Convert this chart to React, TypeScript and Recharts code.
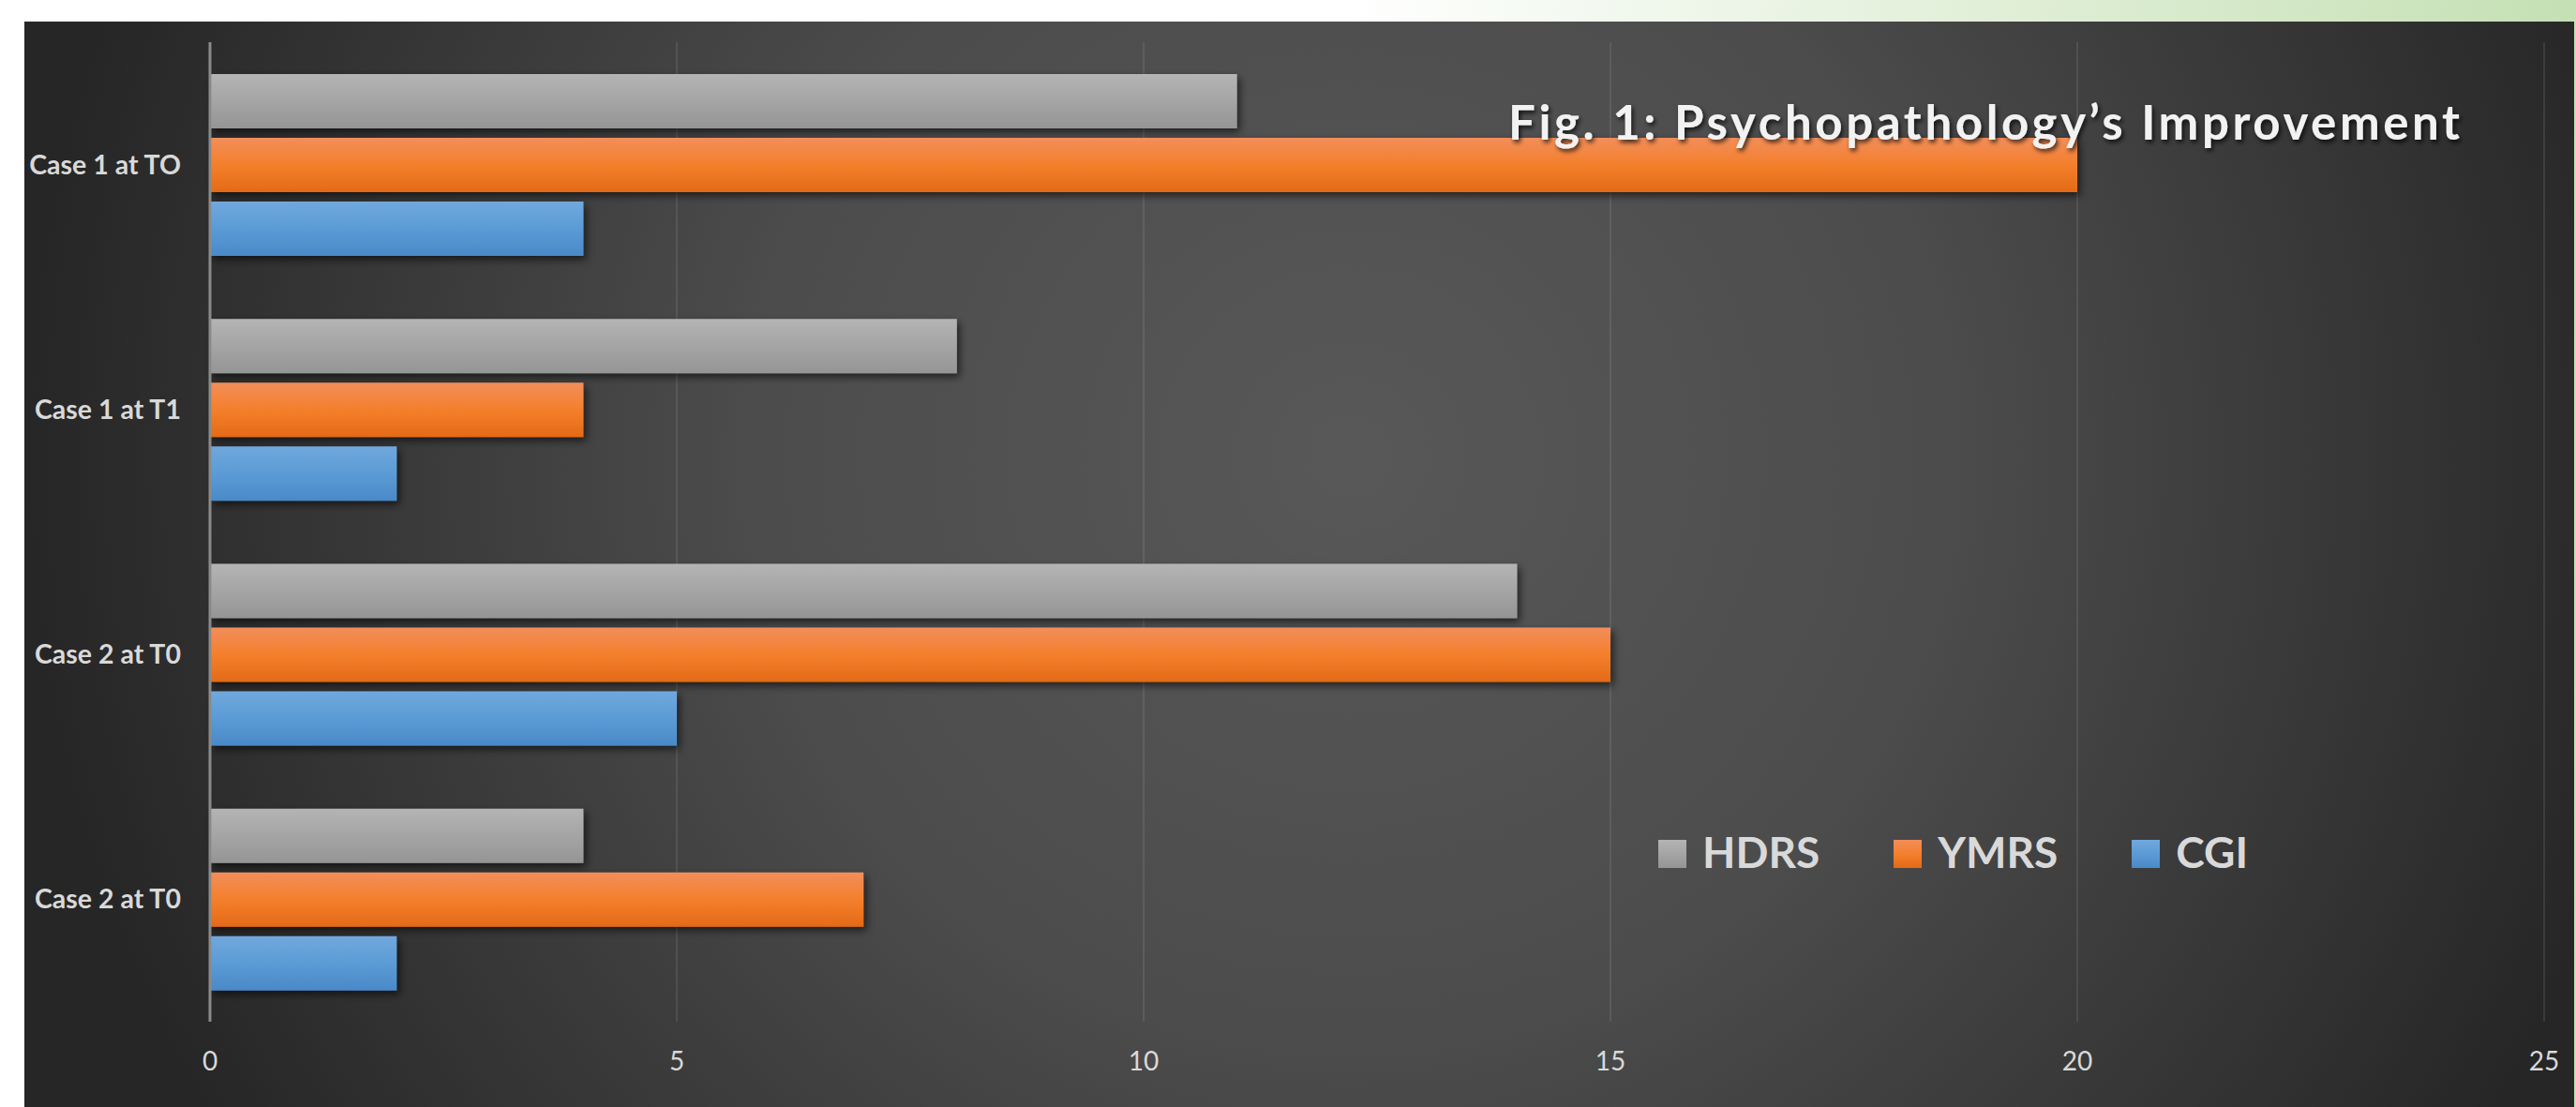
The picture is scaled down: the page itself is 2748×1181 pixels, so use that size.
import React from 'react';
import { BarChart, Bar, XAxis, YAxis, CartesianGrid, Legend } from 'recharts';

// chart values
const categories = ['Case 1 at TO', 'Case 1 at T1', 'Case 2 at T0', 'Case 2 at T0'];
const seriesNames = ['HDRS', 'YMRS', 'CGI'];
const hdrs = [11, 8, 14, 4];
const ymrs = [20, 4, 15, 7];
const cgi = [4, 2, 5, 2];
const xTicks = [0, 5, 10, 15, 20, 25];

const data = categories.map((name, i) => ({ name, HDRS: hdrs[i], YMRS: ymrs[i], CGI: cgi[i] }));

const W = 2748;
const H = 1181;
const FONT = 'Lato, "Open Sans", sans-serif';

// css versions of the bar gradients, for the legend swatches
const legendFill: Record<string, string> = {
	HDRS: 'linear-gradient(#b4b4b4, #959595)',
	YMRS: 'linear-gradient(#f28e5a, #f47f2c 50%, #e46a17)',
	CGI: 'linear-gradient(#70a8dd, #5b9bd5 50%, #4a89c8)',
};

const ShadowBar = (props: any) => {
	const { x, y, width, height, fill } = props;
	if (!width || width <= 0) return null;
	return <rect x={x} y={y} width={width} height={height} fill={fill} filter="url(#barShadow)" />;
};

const renderLegend = (props: any) => {
	const items = [...(props.payload || [])].sort(
		(a: any, b: any) => seriesNames.indexOf(a.value) - seriesNames.indexOf(b.value)
	);
	return (
		<div style={{ whiteSpace: 'nowrap', fontFamily: FONT, fontSize: 46, fontWeight: 700, lineHeight: 1, color: '#d9d9d9' }}>
			{items.map((p: any) => (
				<span key={p.value} style={{ marginRight: 79 }}>
					<span
						style={{
							display: 'inline-block',
							width: 30,
							height: 30,
							marginRight: 17,
							verticalAlign: 'baseline',
							background: legendFill[p.value],
						}}
					/>
					{p.value}
				</span>
			))}
		</div>
	);
};

const App = () => {
	return (
		<div
			style={{
				position: 'absolute',
				left: 0,
				top: 0,
				width: W,
				height: H,
				overflow: 'hidden',
				background: 'linear-gradient(to right, #ffffff 52%, #c5e0b4 100%)',
				fontFamily: FONT,
			}}
		>
			<svg width={0} height={0} style={{ position: 'absolute' }}>
				<defs>
					<linearGradient id="gradHdrs" x1="0" y1="0" x2="0" y2="1">
						<stop offset="0%" stopColor="#b4b4b4" />
						<stop offset="100%" stopColor="#959595" />
					</linearGradient>
					<linearGradient id="gradYmrs" x1="0" y1="0" x2="0" y2="1">
						<stop offset="0%" stopColor="#f28e5a" />
						<stop offset="50%" stopColor="#f47f2c" />
						<stop offset="100%" stopColor="#e46a17" />
					</linearGradient>
					<linearGradient id="gradCgi" x1="0" y1="0" x2="0" y2="1">
						<stop offset="0%" stopColor="#70a8dd" />
						<stop offset="50%" stopColor="#5b9bd5" />
						<stop offset="100%" stopColor="#4a89c8" />
					</linearGradient>
					<filter id="barShadow" x="-5%" y="-30%" width="115%" height="190%">
						<feDropShadow dx="3" dy="4" stdDeviation="4" floodColor="#000" floodOpacity="0.6" />
					</filter>
					<filter id="titleShadow" x="-5%" y="-30%" width="110%" height="170%">
						<feDropShadow dx="2" dy="3" stdDeviation="2.5" floodColor="#000" floodOpacity="0.75" />
					</filter>
				</defs>
			</svg>

			{/* dark slide panel */}
			<div
				style={{
					position: 'absolute',
					left: 26,
					top: 23,
					width: 2720,
					height: 1158,
					background: 'radial-gradient(ellipse 52% 120% at 52% 40%, #585858 0%, #4c4c4c 45%, #262626 100%)',
				}}
			/>

			<div style={{ position: 'absolute', left: 0, top: 0 }}>
				<BarChart
					width={W}
					height={H}
					data={data}
					layout="vertical"
					margin={{ top: 45, right: 34, bottom: 0, left: 0 }}
					barGap={10}
				>
					<CartesianGrid horizontal={false} stroke="rgba(255,255,255,0.09)" strokeWidth={2} />
					<XAxis
						type="number"
						domain={[0, 25]}
						ticks={xTicks}
						interval={0}
						height={91}
						axisLine={false}
						tickLine={false}
						tickSize={0}
						tickMargin={32}
						tick={{ fill: '#d9d9d9', fontSize: 28 }}
					/>
					<YAxis
						type="category"
						dataKey="name"
						width={224}
						axisLine={{ stroke: '#8a8a8a', strokeWidth: 3 }}
						tickLine={false}
						tickSize={0}
						tickMargin={31}
						tick={{ fill: '#d9d9d9', fontSize: 28.5, fontWeight: 700 }}
					/>
					<Legend
						layout="horizontal"
						verticalAlign="middle"
						align="center"
						content={renderLegend}
						wrapperStyle={{ left: 1769, top: 886, width: 800 }}
					/>
					<Bar dataKey="HDRS" fill="url(#gradHdrs)" barSize={58} shape={ShadowBar} isAnimationActive={false} />
					<Bar dataKey="YMRS" fill="url(#gradYmrs)" barSize={58} shape={ShadowBar} isAnimationActive={false} />
					<Bar dataKey="CGI" fill="url(#gradCgi)" barSize={58} shape={ShadowBar} isAnimationActive={false} />
				</BarChart>
			</div>

			<svg width={W} height={H} style={{ position: 'absolute', left: 0, top: 0, pointerEvents: 'none' }}>
				<text
					x={1609}
					y={149}
					fontSize={51}
					fontWeight={700}
					fill="#f2f2f2"
					fontFamily={FONT}
					textLength={1015}
					lengthAdjust="spacing"
					filter="url(#titleShadow)"
				>
					Fig. 1: Psychopathology’s Improvement
				</text>
			</svg>
		</div>
	);
};

export default App;
